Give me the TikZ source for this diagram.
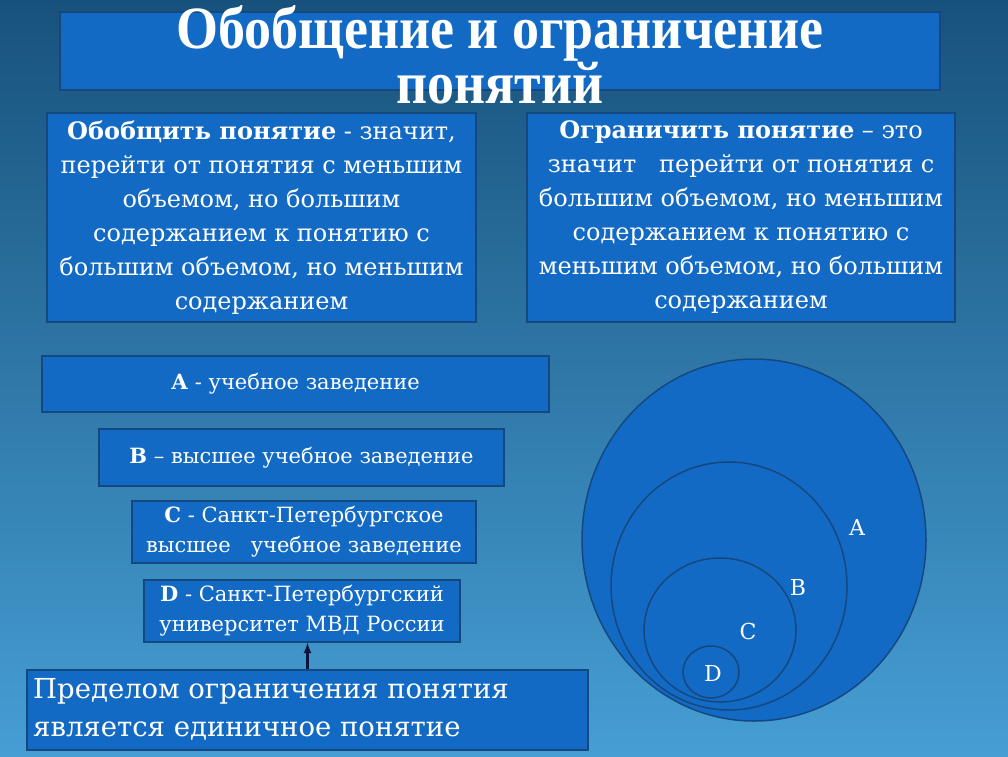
\documentclass[tikz,border=0pt]{standalone}
\usepackage{fontspec}
\setmainfont{DejaVu Serif}
\newfontfamily\titlefont{Liberation Serif}
\definecolor{bgtop}{RGB}{24,82,124}
\definecolor{bgbot}{RGB}{70,158,212}
\definecolor{boxfill}{RGB}{18,106,196}
\definecolor{boxline}{RGB}{22,72,128}
\definecolor{arrowc}{RGB}{10,20,60}
\begin{document}
\begin{tikzpicture}[x=1pt,y=-1pt,
    box/.style={draw=boxline, line width=1.5pt, fill=boxfill, text=white, inner sep=0pt, align=center},
    ring/.style={draw=boxline, line width=1.5pt, fill=boxfill},
    lbl/.style={text=white, font=\fontsize{22}{22}\selectfont}]
    \shade[top color=bgtop, bottom color=bgbot] (0,0) rectangle (1008,756);
    \useasboundingbox (0,0) rectangle (1008,756);

    % title
    \node[box, minimum width=880, minimum height=78] (titlebox) at (500,51) {};
    \node[text=white, align=center, font=\titlefont\bfseries\fontsize{60}{49}\selectfont] (title) at (500,55)
        {\scalebox{0.9}[1]{Обобщение и ограничение}\\\scalebox{0.9}[1]{понятий}};

    % definitions
    \node[box, minimum width=429, minimum height=209, font=\fontsize{24}{34}\selectfont] (general) at (261.5,217.5)
        {\textbf{Обобщить понятие} - значит,\\ перейти от понятия с меньшим\\ объемом, но большим\\ содержанием к понятию с\\ большим объемом, но меньшим\\ содержанием};
    \node[box, minimum width=428, minimum height=209, font=\fontsize{24}{34}\selectfont] (restrict) at (741,217.5)
        {\textbf{Ограничить понятие} – это\\ значит \ \ перейти от понятия с\\ большим объемом, но меньшим\\ содержанием к понятию с\\ меньшим объемом, но большим\\ содержанием};

    % examples
    \node[box, minimum width=507, minimum height=56, font=\fontsize{21}{30}\selectfont] (abox) at (295.5,384) {\textbf{А} - учебное заведение};
    \node[box, minimum width=405, minimum height=57, font=\fontsize{21}{30}\selectfont] (bbox) at (301.5,457.5) {\textbf{В} – высшее учебное заведение};
    \node[box, minimum width=344, minimum height=62, font=\fontsize{21}{30}\selectfont] (cbox) at (304,532) {\textbf{С} - Санкт-Петербургское\\ высшее \ \ учебное заведение};
    \node[box, minimum width=316, minimum height=62, font=\fontsize{21}{30}\selectfont] (dbox) at (302,611) {\textbf{D} - Санкт-Петербургский\\ университет МВД России};

    % limit
    \node[box, minimum width=561, minimum height=80] (lim) at (307.5,710) {};
    \node[text=white, anchor=west, align=left, inner sep=0pt, font=\fontsize{27.5}{38}\selectfont] (limtxt) at (33,709)
        {Пределом ограничения понятия\\ является единичное понятие};
    \draw[arrowc, line width=2.5pt, -latex] (lim.north) -- (lim.north |- dbox.south);

    % circles
    \draw[ring] (754,540) ellipse [x radius=172, y radius=181];
    \draw[ring] (729,586) ellipse [x radius=118, y radius=124];
    \draw[ring] (720,630) ellipse [x radius=76, y radius=72];
    \draw[ring] (711,672) ellipse [x radius=28, y radius=26];
    \node[lbl] (la) at (857,527) {A};
    \node[lbl] (lb) at (798,587) {B};
    \node[lbl] (lc) at (748,631) {C};
    \node[lbl] (ld) at (713,673) {D};
\end{tikzpicture}
\end{document}
